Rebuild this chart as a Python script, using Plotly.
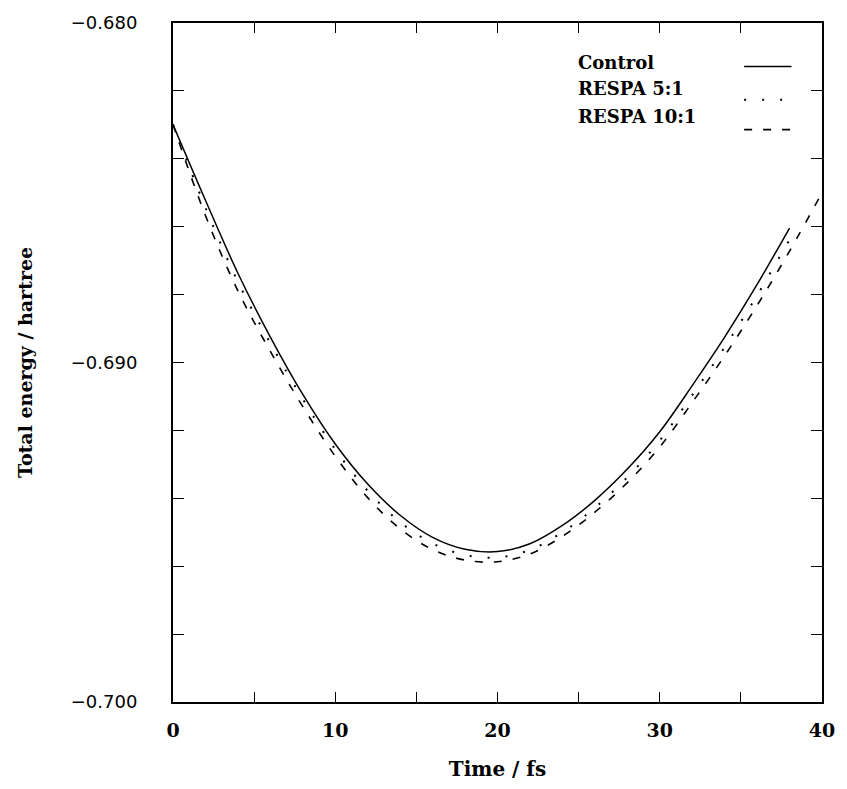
import plotly.graph_objects as go

# values (time in fs, energy in hartree)
time_fs = [0, 2, 4, 6, 8, 10, 12, 14, 16, 18, 20, 22, 24, 26, 28, 30, 32, 34, 36, 38]
time_fs_10 = [0, 2, 4, 6, 8, 10, 12, 14, 16, 18, 20, 22, 24, 26, 28, 30, 32, 34, 36, 38, 40]

control = [-0.68299, -0.68522, -0.68737, -0.68925, -0.69094, -0.69240, -0.69358,
           -0.69450, -0.69515, -0.69550, -0.69557, -0.69534, -0.69480, -0.69406,
           -0.69314, -0.69204, -0.69068, -0.68925, -0.68770, -0.68604]
respa_5 = [-0.68299, -0.68544, -0.68762, -0.68943, -0.69108, -0.69256, -0.69378,
           -0.69470, -0.69533, -0.69567, -0.69574, -0.69552, -0.69500, -0.69428,
           -0.69338, -0.69230, -0.69096, -0.68955, -0.68802, -0.68638]
respa_10 = [-0.68299, -0.68567, -0.68789, -0.68967, -0.69130, -0.69276, -0.69398,
            -0.69490, -0.69551, -0.69582, -0.69587, -0.69564, -0.69512, -0.69441,
            -0.69354, -0.69249, -0.69118, -0.68980, -0.68832, -0.68672, -0.68500]

series_names = ['Control', 'RESPA 5:1', 'RESPA 10:1']

x_ticks = [0, 5, 10, 15, 20, 25, 30, 35, 40]
x_tick_text = ['0', '', '10', '', '20', '', '30', '', '40']
y_ticks = [-0.700, -0.698, -0.696, -0.694, -0.692, -0.690, -0.688, -0.686, -0.684, -0.682, -0.680]
y_tick_text = ['\u22120.700', '', '', '', '', '\u22120.690', '', '', '', '', '\u22120.680']

SERIF = 'DejaVu Serif'
SANS = 'DejaVu Sans'

styles = [dict(dash='solid', width=1.5),
          dict(dash='2px,16px', width=2),
          dict(dash='8px,11px', width=1.6)]

fig = go.Figure()
for name, xs, ys, st in zip(series_names,
                            [time_fs, time_fs, time_fs_10],
                            [control, respa_5, respa_10],
                            styles):
    fig.add_trace(go.Scatter(x=xs, y=ys, name=name, mode='lines',
                             line=dict(color='black', shape='spline',
                                       smoothing=1.0, **st),
                             showlegend=False))

# legend drawn as text on the left and a line sample on the right
legend_rows = [0.942, 0.904, 0.863]
sample_rows = [0.936, 0.887, 0.843]
for name, ty, sy, st in zip(series_names, legend_rows, sample_rows, styles):
    fig.add_annotation(xref='paper', yref='paper', x=0.621, y=ty,
                       xanchor='left', yanchor='middle', text=name,
                       showarrow=False,
                       font=dict(family=SERIF, size=18, color='black',
                                 weight='bold'))
    fig.add_shape(type='line', xref='paper', yref='paper',
                  x0=0.880, x1=0.953, y0=sy, y1=sy,
                  line=dict(color='black', dash=st['dash'], width=st['width']))

fig.update_layout(width=847, height=789,
                  plot_bgcolor='white', paper_bgcolor='white',
                  margin=dict(l=173, r=16, t=19, b=81),
                  showlegend=False)

fig.update_xaxes(range=[0, 40], tickvals=x_ticks, ticktext=x_tick_text,
                 ticks='inside', ticklen=10, tickwidth=1.2, tickcolor='black',
                 showline=True, linecolor='black', linewidth=2,
                 mirror='ticks', showgrid=False, zeroline=False,
                 ticklabelstandoff=10,
                 tickfont=dict(family=SERIF, size=19, color='black', weight='bold'),
                 title=dict(text='Time / fs', standoff=22,
                            font=dict(family=SERIF, size=20, color='black',
                                      weight='bold')))

fig.update_yaxes(range=[-0.700, -0.680], tickvals=y_ticks, ticktext=y_tick_text,
                 ticks='inside', ticklen=11, tickwidth=1.2, tickcolor='black',
                 showline=True, linecolor='black', linewidth=2,
                 mirror='ticks', showgrid=False, zeroline=False,
                 ticklabelstandoff=30,
                 tickfont=dict(family=SANS, size=18, color='black'),
                 title=dict(text='Total energy / hartree', standoff=33,
                            font=dict(family=SERIF, size=19, color='black',
                                      weight='bold')))

# drop the default page margin so the figure sits at the window's corner
fig.write_html("out.html", config={'displayModeBar': False},
               post_script="document.body.style.margin='0px';")
